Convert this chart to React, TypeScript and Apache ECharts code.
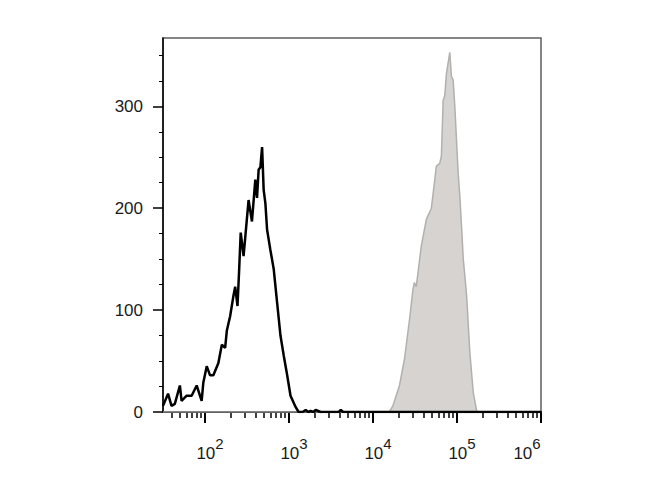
import React, { useEffect, useRef } from "react";
import * as echarts from "echarts";

// Black open histogram (control) – fluorescence intensity vs. count
const blackX = [31.6, 36.3, 39.9, 43.7, 50.2, 52.6, 60.4, 69.3, 79.6, 91.2, 95.5, 104.8, 114.8, 125.7, 144.2, 158.5, 173.6, 182, 199, 218, 228.6, 243.6, 255, 266, 287.6, 330, 362, 397, 416, 435, 456, 478, 499, 523, 548, 600, 658, 722, 791, 867, 951, 1042, 1197, 1300, 1450, 1578, 1700, 1808, 1950, 2075, 2382, 3900, 4140, 4400, 1000000];
const blackY = [6, 18, 6, 8, 26, 11, 16, 16, 26, 11, 29, 45, 36, 36, 48, 66, 63, 80, 94, 114, 123, 104, 140, 176, 153, 208, 187, 228, 210, 238, 240, 260, 218, 205, 179, 159, 140, 107, 75, 55, 36, 16, 5, 0, 0, 2, 0, 1, 0, 2, 0, 0, 2, 0, 0];

// Grey filled histogram (stained)
const grayX = [31.6, 15560, 16440, 17220, 20650, 23710, 27230, 29870, 30970, 32730, 37580, 43150, 49550, 56760, 62230, 65160, 68390, 71450, 74820, 82030, 85910, 89950, 94190, 103300, 108200, 113300, 118800, 130000, 142300, 156200, 171400, 180800, 1000000];
const grayY = [0, 0, 3, 6, 26, 52, 91, 120, 127, 123, 163, 189, 200, 241, 244, 251, 306, 310, 332, 353, 329, 326, 300, 234, 211, 182, 150, 115, 58, 19, 1, 0, 0];

// Axis ticks
const xMajorTicks = [100, 1000, 10000, 100000, 1000000];
const xExponents = ["2", "3", "4", "5", "6"];
const yTicks = [0, 100, 200, 300];
const X_MIN = 31.6;
const X_MAX = 1000000;
const Y_MAX = 367;

const xMinorTicks: number[] = [];
[10, 100, 1000, 10000, 100000].forEach((d) => {
  for (let k = 2; k <= 9; k++) {
    const v = k * d;
    if (v >= X_MIN && v <= X_MAX) xMinorTicks.push(v);
  }
});

export default function App() {
  const ref = useRef<HTMLDivElement>(null);
  useEffect(() => {
    if (!ref.current) return;
    const chart = echarts.init(ref.current, null, { renderer: "svg" });
    const font = "Liberation Sans, Arial, sans-serif";
    chart.setOption({
      animation: false,
      backgroundColor: "#ffffff",
      grid: {
        left: 163,
        right: 129,
        top: 38,
        bottom: 88,
        show: true,
        borderColor: "#5e5e5e",
        borderWidth: 1.5,
        backgroundColor: "transparent",
      },
      xAxis: [
        {
          type: "log",
          logBase: 10,
          min: X_MIN,
          max: X_MAX,
          position: "bottom",
          axisLine: { show: true, lineStyle: { color: "#000", width: 2 } },
          axisTick: {
            show: true,
            customValues: xMajorTicks,
            length: 11,
            lineStyle: { color: "#000", width: 2 },
          },
          axisLabel: {
            show: true,
            customValues: xMajorTicks,
            margin: 24,
            fontFamily: font,
            color: "#1a1a1a",
            formatter: (v: number) => {
              const i = xMajorTicks.findIndex((t) => Math.abs(Math.log10(t) - Math.log10(v)) < 1e-6);
              const e = i >= 0 ? xExponents[i] : String(Math.round(Math.log10(v)));
              if (i === xMajorTicks.length - 1) return `{bl|10}{sl|${e}}`;
              return `{b|10}{s|${e}}`;
            },
            rich: {
              b: { fontSize: 17, fontFamily: font, color: "#1a1a1a", padding: [0, 0, 0, 10], verticalAlign: "bottom" },
              s: { fontSize: 15, fontFamily: font, color: "#1a1a1a", padding: [0, 0, 11, 0], verticalAlign: "bottom" },
              bl: { fontSize: 17, fontFamily: font, color: "#1a1a1a", verticalAlign: "bottom" },
              sl: { fontSize: 15, fontFamily: font, color: "#1a1a1a", padding: [0, 28, 11, 0], verticalAlign: "bottom" },
            },
          },
          splitLine: { show: false },
          minorTick: { show: false },
        },
        {
          type: "log",
          logBase: 10,
          min: X_MIN,
          max: X_MAX,
          position: "bottom",
          offset: 0,
          axisLine: { show: false },
          axisTick: {
            show: true,
            customValues: xMinorTicks,
            length: 6,
            lineStyle: { color: "#000", width: 1.5 },
          },
          axisLabel: { show: false },
          splitLine: { show: false },
        },
      ],
      yAxis: {
        type: "value",
        min: 0,
        max: Y_MAX,
        interval: 100,
        axisLine: { show: true, lineStyle: { color: "#000", width: 1.5 } },
        axisTick: {
          show: true,
          customValues: yTicks,
          length: 10,
          lineStyle: { color: "#000", width: 1.5 },
        },
        minorTick: { show: true, splitNumber: 4, length: 4, lineStyle: { color: "#000", width: 1 } },
        axisLabel: {
          show: true,
          customValues: yTicks,
          margin: 20,
          fontSize: 17,
          fontFamily: font,
          color: "#1a1a1a",
        },
        splitLine: { show: false },
        minorSplitLine: { show: false },
      },
      series: [
        {
          type: "line",
          xAxisIndex: 0,
          data: grayX.map((x, i) => [x, grayY[i]]),
          showSymbol: false,
          symbol: "none",
          lineStyle: { color: "#b2b0ae", width: 1.5 },
          areaStyle: { color: "#d6d3d1", opacity: 1 },
          z: 2,
        },
        {
          type: "line",
          xAxisIndex: 0,
          data: blackX.map((x, i) => [x, blackY[i]]),
          showSymbol: false,
          symbol: "none",
          lineStyle: { color: "#000", width: 2.5 },
          z: 3,
        },
      ],
    });
    return () => chart.dispose();
  }, []);
  return <div ref={ref} style={{ width: 670, height: 500, position: "absolute", left: 0, top: 0 }} />;
}
